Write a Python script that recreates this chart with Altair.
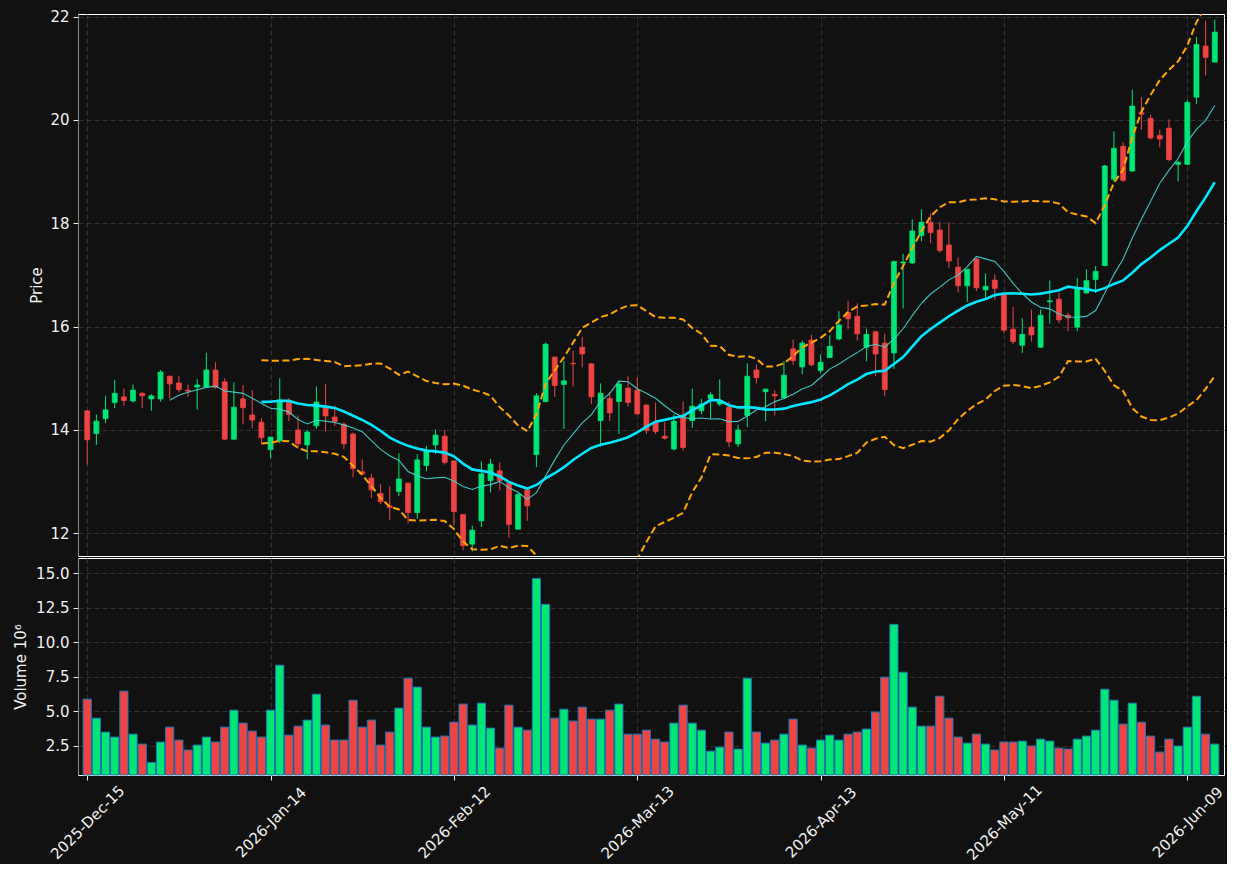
import altair as alt
import pandas as pd

# ---------------- data ----------------
opens = [14.37, 13.93, 14.22, 14.53, 14.64, 14.56, 14.71, 14.60, 14.60, 15.04,
         14.91, 14.77, 14.83, 14.83, 15.16, 14.93, 13.82, 14.60, 14.29, 14.15,
         13.62, 13.79, 14.53, 14.00, 13.71, 14.08, 14.46, 14.25, 14.11, 13.92,
         13.19, 13.07, 12.77, 12.53, 12.81, 12.97, 12.40, 13.31, 13.71, 13.88,
         13.40, 12.36, 11.79, 12.24, 13.02, 13.21, 12.97, 12.08, 12.84, 13.52,
         14.55, 15.41, 14.88, 15.29, 15.60, 15.28, 14.18, 14.61, 14.55, 14.81,
         14.77, 14.48, 14.14, 13.88, 13.63, 14.29, 14.18, 14.37, 14.60, 14.50,
         14.44, 13.73, 14.28, 15.16, 14.74, 14.69, 14.62, 15.57, 15.22, 15.74,
         15.15, 15.40, 15.76, 16.27, 16.20, 15.60, 15.90, 15.68, 15.49, 17.23,
         17.23, 17.76, 18.02, 17.87, 17.58, 17.15, 16.79, 17.31, 16.71, 16.90,
         16.62, 15.95, 15.64, 15.99, 15.60, 16.48, 16.53, 16.22, 15.99, 16.65,
         16.91, 17.18, 18.85, 19.49, 19.01, 20.14, 20.03, 19.70, 19.84, 19.14,
         19.14, 20.44, 21.43, 21.12]
highs = [14.38, 14.30, 14.66, 14.97, 14.80, 14.88, 14.73, 14.69, 15.16, 15.05,
         15.04, 14.88, 14.98, 15.49, 15.31, 15.00, 14.92, 14.87, 14.77, 14.23,
         13.87, 15.00, 14.61, 14.28, 14.00, 14.84, 14.89, 14.47, 14.15, 13.95,
         13.43, 13.15, 12.95, 12.91, 13.55, 12.98, 13.53, 13.69, 14.01, 14.00,
         13.42, 12.37, 12.15, 13.39, 13.44, 13.37, 12.98, 12.78, 12.85, 14.71,
         15.69, 15.42, 15.34, 15.53, 15.80, 15.29, 14.90, 14.73, 14.95, 15.04,
         15.02, 14.50, 14.53, 14.15, 14.30, 14.55, 14.80, 14.60, 14.73, 14.98,
         14.55, 14.10, 15.29, 15.26, 14.80, 14.77, 15.33, 15.75, 15.73, 15.84,
         15.46, 15.83, 16.30, 16.50, 16.45, 15.96, 15.92, 15.86, 17.28, 17.41,
         18.07, 18.27, 18.19, 18.03, 18.02, 17.34, 17.12, 17.34, 17.03, 17.01,
         16.63, 16.38, 16.16, 16.33, 16.33, 16.89, 16.65, 16.27, 16.94, 17.11,
         17.17, 19.13, 19.78, 19.57, 20.59, 20.44, 20.10, 19.81, 20.01, 19.21,
         20.38, 21.61, 21.92, 21.94]
lows = [13.33, 13.71, 14.13, 14.42, 14.47, 14.53, 14.42, 14.37, 14.55, 14.60,
        14.73, 14.64, 14.39, 14.82, 14.80, 13.81, 13.81, 14.11, 14.03, 13.75,
        13.45, 13.74, 14.17, 13.64, 13.43, 14.02, 13.97, 14.08, 13.63, 13.08,
        13.13, 12.68, 12.56, 12.26, 12.72, 12.19, 12.28, 13.20, 13.53, 13.33,
        12.15, 11.67, 11.65, 12.12, 12.79, 12.83, 11.91, 12.07, 12.24, 13.28,
        14.53, 14.64, 14.02, 14.84, 15.21, 14.50, 13.68, 14.17, 13.92, 14.45,
        14.30, 13.92, 13.92, 13.81, 13.60, 13.60, 14.04, 14.30, 14.21, 14.46,
        13.67, 13.67, 14.05, 14.90, 14.17, 14.28, 14.61, 15.26, 15.08, 15.23,
        15.09, 15.39, 15.73, 15.95, 15.73, 15.33, 15.04, 14.65, 15.18, 16.35,
        17.22, 17.65, 17.61, 17.43, 17.14, 16.66, 16.48, 16.69, 16.56, 16.52,
        15.87, 15.66, 15.49, 15.71, 15.59, 16.06, 16.07, 15.91, 15.91, 16.64,
        16.65, 17.17, 18.80, 18.80, 19.00, 19.81, 19.62, 19.47, 19.21, 18.81,
        19.13, 20.31, 20.86, 21.11]
closes = [13.81, 14.17, 14.39, 14.71, 14.57, 14.77, 14.66, 14.66, 15.12, 14.89,
          14.78, 14.75, 14.87, 15.16, 14.82, 13.82, 14.44, 14.43, 14.19, 13.85,
          13.86, 14.58, 14.30, 13.73, 13.96, 14.54, 14.27, 14.16, 13.73, 13.25,
          13.15, 12.84, 12.61, 12.50, 13.05, 12.40, 13.42, 13.60, 13.90, 13.37,
          12.42, 11.76, 12.06, 13.15, 13.34, 13.02, 12.17, 12.75, 12.53, 14.66,
          15.66, 14.86, 14.95, 15.28, 15.47, 14.64, 14.71, 14.33, 14.89, 14.53,
          14.31, 13.99, 13.97, 13.84, 14.17, 13.66, 14.46, 14.50, 14.68, 14.57,
          13.77, 14.00, 15.04, 15.01, 14.79, 14.66, 15.06, 15.34, 15.68, 15.26,
          15.31, 15.62, 16.03, 16.15, 15.86, 15.85, 15.47, 14.78, 17.26, 17.25,
          17.85, 18.02, 17.82, 17.47, 17.27, 16.79, 17.11, 16.75, 16.78, 16.74,
          15.93, 15.71, 15.85, 15.84, 16.22, 16.50, 16.13, 16.17, 16.73, 16.89,
          17.07, 19.11, 19.45, 18.83, 20.27, 20.11, 19.65, 19.63, 19.23, 19.18,
          20.34, 21.46, 21.21, 21.70]
volumes = [5.88, 4.50, 3.49, 3.13, 6.46, 3.34, 2.62, 1.29, 2.77, 3.85,
           2.91, 2.19, 2.55, 3.13, 2.77, 3.85, 5.08, 4.14, 3.56, 3.13,
           5.08, 8.34, 3.27, 3.92, 4.36, 6.24, 4.00, 2.91, 2.91, 5.80,
           3.85, 4.36, 2.55, 3.49, 5.23, 7.40, 6.75, 3.85, 3.13, 3.20,
           4.21, 5.52, 4.00, 5.59, 3.78, 2.33, 5.44, 3.85, 3.63, 14.63,
           12.75, 4.50, 5.15, 4.29, 5.30, 4.43, 4.43, 5.08, 5.52, 3.34,
           3.34, 3.63, 2.98, 2.77, 4.14, 5.44, 4.14, 3.63, 2.11, 2.40,
           3.49, 2.26, 7.40, 3.49, 2.69, 2.91, 3.34, 4.43, 2.55, 2.33,
           2.91, 3.27, 2.91, 3.34, 3.49, 3.71, 4.94, 7.47, 11.30, 7.83,
           5.30, 3.92, 3.92, 6.09, 4.50, 3.13, 2.69, 3.34, 2.62, 2.19,
           2.77, 2.77, 2.84, 2.48, 2.98, 2.84, 2.33, 2.26, 2.98, 3.20,
           3.63, 6.60, 5.80, 4.07, 5.59, 4.21, 3.20, 2.04, 2.98, 2.48,
           3.85, 6.09, 3.34, 2.62]

tick_idx = [0, 20, 40, 60, 80, 100, 120]
tick_labels = ["2025-Dec-15", "2026-Jan-14", "2026-Feb-12", "2026-Mar-13",
               "2026-Apr-13", "2026-May-11", "2026-Jun-09"]
price_ticks = [12, 14, 16, 18, 20, 22]
volume_ticks = [2.5, 5.0, 7.5, 10.0, 12.5, 15.0]

# ---------------- styling ----------------
BG = "#111111"
FG = "#f0f0f0"
UP = "#00e676"
DOWN = "#ef4444"
VUP = "#00ff88"
VDOWN = "#ff4444"
X_DOMAIN = [-0.46, 123.46]
P_DOMAIN = [11.56, 22.05]
V_DOMAIN = [0.38, 16.11]
W = 1146
HP = 542
HV = 217

n = len(closes)
df = pd.DataFrame({
    "idx": list(range(n)),
    "o": opens, "h": highs, "l": lows, "c": closes, "v": volumes,
})
df["dir"] = ["up" if c >= o else "down" for o, c in zip(opens, closes)]

label_expr = " : ".join(
    f"datum.value == {i} ? '{s}'" for i, s in zip(tick_idx, tick_labels)
) + " : ''"

xscale = alt.Scale(domain=X_DOMAIN, nice=False, zero=False)

x_price = alt.X("idx:Q", scale=xscale,
                axis=alt.Axis(values=tick_idx, labels=False, ticks=False,
                              domain=False, title=None, grid=True))
y_price_axis = alt.Axis(values=price_ticks, title="Price", grid=True,
                        tickSize=5, labelPadding=4, titlePadding=5)
pscale = alt.Scale(domain=P_DOMAIN, nice=False, zero=False)

cand_color = alt.Color("dir:N", scale=alt.Scale(domain=["up", "down"], range=[UP, DOWN]),
                       legend=None)

base = alt.Chart(df)

wicks = base.mark_rule(strokeWidth=1).encode(
    x=x_price,
    y=alt.Y("l:Q", scale=pscale, axis=y_price_axis),
    y2="h:Q",
    color=cand_color,
)
bodies = base.mark_bar(size=5, strokeWidth=0.7).encode(
    x=x_price,
    y=alt.Y("o:Q", scale=pscale),
    y2="c:Q",
    color=cand_color,
    stroke=cand_color,
)

win_sort = [alt.SortField("idx")]

ma10 = base.transform_window(
    ma10="mean(c)", n10="count()", frame=[-9, 0], sort=win_sort
).transform_filter("datum.n10 == 10").mark_line(
    color="#40d8d0", strokeWidth=1.1, opacity=0.9, clip=True
).encode(x=x_price, y=alt.Y("ma10:Q", scale=pscale))

bb = base.transform_window(
    ma20="mean(c)", sd20="stdev(c)", n20="count()", frame=[-19, 0], sort=win_sort
).transform_filter("datum.n20 == 20").transform_calculate(
    upper="datum.ma20 + 2 * datum.sd20",
    lower="datum.ma20 - 2 * datum.sd20",
)

ma20 = bb.mark_line(color="#00e8ff", strokeWidth=2.6, clip=True).encode(
    x=x_price, y=alt.Y("ma20:Q", scale=pscale))

bands = bb.transform_fold(["upper", "lower"], as_=["band", "val"]).mark_line(
    color="#ffa500", strokeWidth=2, strokeDash=[7, 3.5], clip=True
).encode(x=x_price, y=alt.Y("val:Q", scale=pscale), detail="band:N")

price = alt.layer(wicks, bodies, bands, ma10, ma20).properties(width=W, height=HP)

# ---------------- volume panel ----------------
x_vol = alt.X("idx:Q", scale=xscale,
              axis=alt.Axis(values=tick_idx, labelExpr=label_expr, title=None,
                            grid=True, domain=False, tickSize=5, labelAngle=315,
                            labelAlign="center", labelBaseline="middle",
                            labelPadding=42, labelOverlap=False))
vol_color = alt.Color("dir:N", scale=alt.Scale(domain=["up", "down"], range=[VUP, VDOWN]),
                      legend=None)
volume = base.mark_bar(size=8.2, stroke="#1f77b4", strokeWidth=1).encode(
    x=x_vol,
    y=alt.Y("v:Q", scale=alt.Scale(domain=V_DOMAIN, nice=False, zero=False),
            axis=alt.Axis(values=volume_ticks, format=".1f", title="Volume  10⁶",
                          grid=True, tickSize=5, labelPadding=4, titlePadding=7)),
    y2=alt.datum(V_DOMAIN[0]),
    color=vol_color,
).properties(width=W, height=HV)

chart = alt.vconcat(price, volume, spacing=0).properties(
    background=BG,
    padding={"left": 13, "top": 9, "right": 0, "bottom": 0},
).configure_view(
    stroke="#ffffff", strokeWidth=1
).configure_axis(
    gridColor="#3a3a3a", gridDash=[5, 3], gridWidth=0.8,
    labelColor=FG, titleColor=FG, tickColor=FG, tickWidth=1,
    labelFont="DejaVu Sans", titleFont="DejaVu Sans",
    labelFontSize=15, titleFontSize=15, titleFontWeight="normal",
)

chart.save("out.html", embed_options={"renderer": "svg", "actions": False})
